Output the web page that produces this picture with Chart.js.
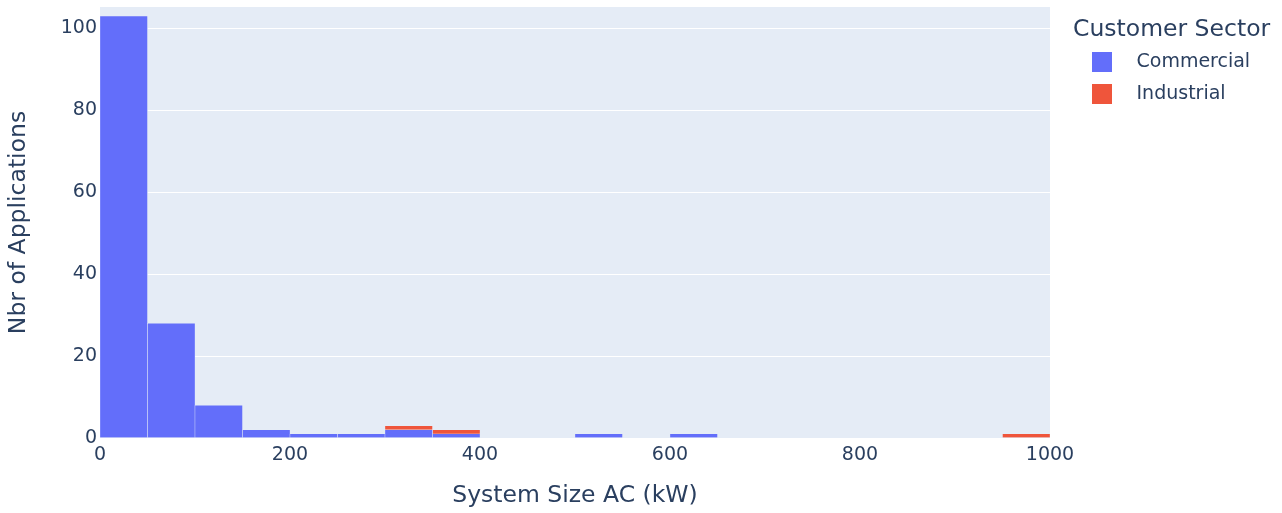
<!DOCTYPE html>
<html>
<head>
<meta charset="utf-8">
<script src="https://cdn.jsdelivr.net/npm/chart.js@4.4.1/dist/chart.umd.min.js"></script>
<style>
html,body{margin:0;padding:0;background:#ffffff;}
#c{display:block;}
</style>
</head>
<body>
<canvas id="c" width="1282" height="513"></canvas>
<script>
// ---- data (50 kW bins) ----
const binLabels = ['0-50','50-100','100-150','150-200','200-250','250-300','300-350','350-400','400-450','450-500',
                   '500-550','550-600','600-650','650-700','700-750','750-800','800-850','850-900','900-950','950-1000'];
const commercialCounts = [103, 28, 8, 2, 1, 1, 2, 1, 0, 0, 1, 0, 1, 0, 0, 0, 0, 0, 0, 0];
const industrialCounts = [0, 0, 0, 0, 0, 0, 1, 1, 0, 0, 0, 0, 0, 0, 0, 0, 0, 0, 0, 1];
const seriesNames = ['Commercial', 'Industrial'];
const xRange = [0, 1000];
const yRange = [0, 105.2];

// ---- style ----
const FONT = "'DejaVu Sans', Verdana, sans-serif";
const TEXT = '#2a3f5f';
const COLORS = ['#636efa', '#ef553b'];

function makeMarker(color) {
  const c = document.createElement('canvas');
  c.width = 41; c.height = 20;
  const g = c.getContext('2d');
  g.fillStyle = color;
  g.fillRect(6, 0, 20, 20);
  return c;
}
const markers = COLORS.map(makeMarker);

const bgPlugin = {
  id: 'plotBg',
  beforeDraw(chart) {
    const a = chart.chartArea, ctx = chart.ctx;
    ctx.save();
    ctx.fillStyle = '#e5ecf6';
    ctx.fillRect(a.left, a.top, a.right - a.left, a.bottom - a.top);
    ctx.restore();
  }
};
const legendWidthPlugin = {
  id: 'legendWidth',
  beforeLayout(chart) {
    const lg = chart.legend;
    if (lg && !lg._fixedW) {
      const f = lg.fit;
      lg.fit = function () { f.call(this); this.width = 209; };
      lg._fixedW = true;
    }
  }
};

new Chart(document.getElementById('c'), {
  type: 'bar',
  data: {
    labels: binLabels,
    datasets: [
      { label: seriesNames[0], data: commercialCounts, backgroundColor: COLORS[0], borderColor: '#e5ecf6', borderWidth: 0.5, xAxisID: 'x', yAxisID: 'y', categoryPercentage: 1, barPercentage: 1 },
      { label: seriesNames[1], data: industrialCounts, backgroundColor: COLORS[1], borderColor: '#e5ecf6', borderWidth: 0.5, xAxisID: 'x', yAxisID: 'y', categoryPercentage: 1, barPercentage: 1 }
    ]
  },
  options: {
    responsive: false,
    animation: false,
    devicePixelRatio: 1,
    layout: { padding: { top: 7, left: 0, right: 0, bottom: 0 }, autoPadding: false },
    plugins: {
      tooltip: { enabled: false },
      legend: {
        position: 'right',
        align: 'start',
        title: {
          display: true,
          text: 'Customer Sector',
          position: 'start',
          color: TEXT,
          font: { family: FONT, size: 23.5, lineHeight: 1 },
          padding: { top: 11, bottom: -2, left: 0, right: 0 }
        },
        labels: {
          color: TEXT,
          font: { family: FONT, size: 19 },
          padding: 13,
          usePointStyle: true,
          pointStyleWidth: 41,
          boxHeight: 19,
          generateLabels(chart) {
            return chart.data.datasets.map((ds, i) => ({
              text: ds.label,
              fillStyle: ds.backgroundColor,
              strokeStyle: ds.backgroundColor,
              lineWidth: 0,
              fontColor: TEXT,
              hidden: !chart.isDatasetVisible(i),
              datasetIndex: i,
              pointStyle: markers[i]
            }));
          }
        }
      }
    },
    scales: {
      x: { type: 'category', display: false, stacked: true, offset: true },
      x2: {
        type: 'linear', position: 'bottom', min: xRange[0], max: xRange[1], offset: false,
        grid: { display: false, drawTicks: false, offset: false },
        border: { display: false },
        ticks: { stepSize: 200, color: TEXT, font: { family: FONT, size: 19 }, padding: 6, callback: v => String(v) },
        title: { display: true, text: 'System Size AC (kW)', color: TEXT, font: { family: FONT, size: 23.5, lineHeight: 1.2 }, padding: { top: 3, bottom: 3 } },
        afterFit(s) { s.height = 75; s.paddingLeft = 0; s.paddingRight = 0; }
      },
      y: {
        type: 'linear', position: 'left', stacked: true, min: yRange[0], max: yRange[1],
        grid: { color: '#ffffff', lineWidth: 1, drawTicks: false },
        border: { display: false },
        ticks: { stepSize: 20, includeBounds: false, color: TEXT, font: { family: FONT, size: 19 }, padding: 3 },
        title: { display: true, text: 'Nbr of Applications', color: TEXT, font: { family: FONT, size: 23.5, lineHeight: 1.2 }, padding: { top: 5, bottom: 5 } },
        afterFit(s) { s.width = 100; s.paddingTop = 0; s.paddingBottom = 0; }
      },
      yR: {
        type: 'linear', position: 'right', display: true,
        grid: { display: false, drawTicks: false },
        border: { display: false },
        ticks: { display: false },
        afterFit(s) { s.width = 23; }
      }
    }
  },
  plugins: [bgPlugin, legendWidthPlugin]
});
</script>
</body>
</html>
